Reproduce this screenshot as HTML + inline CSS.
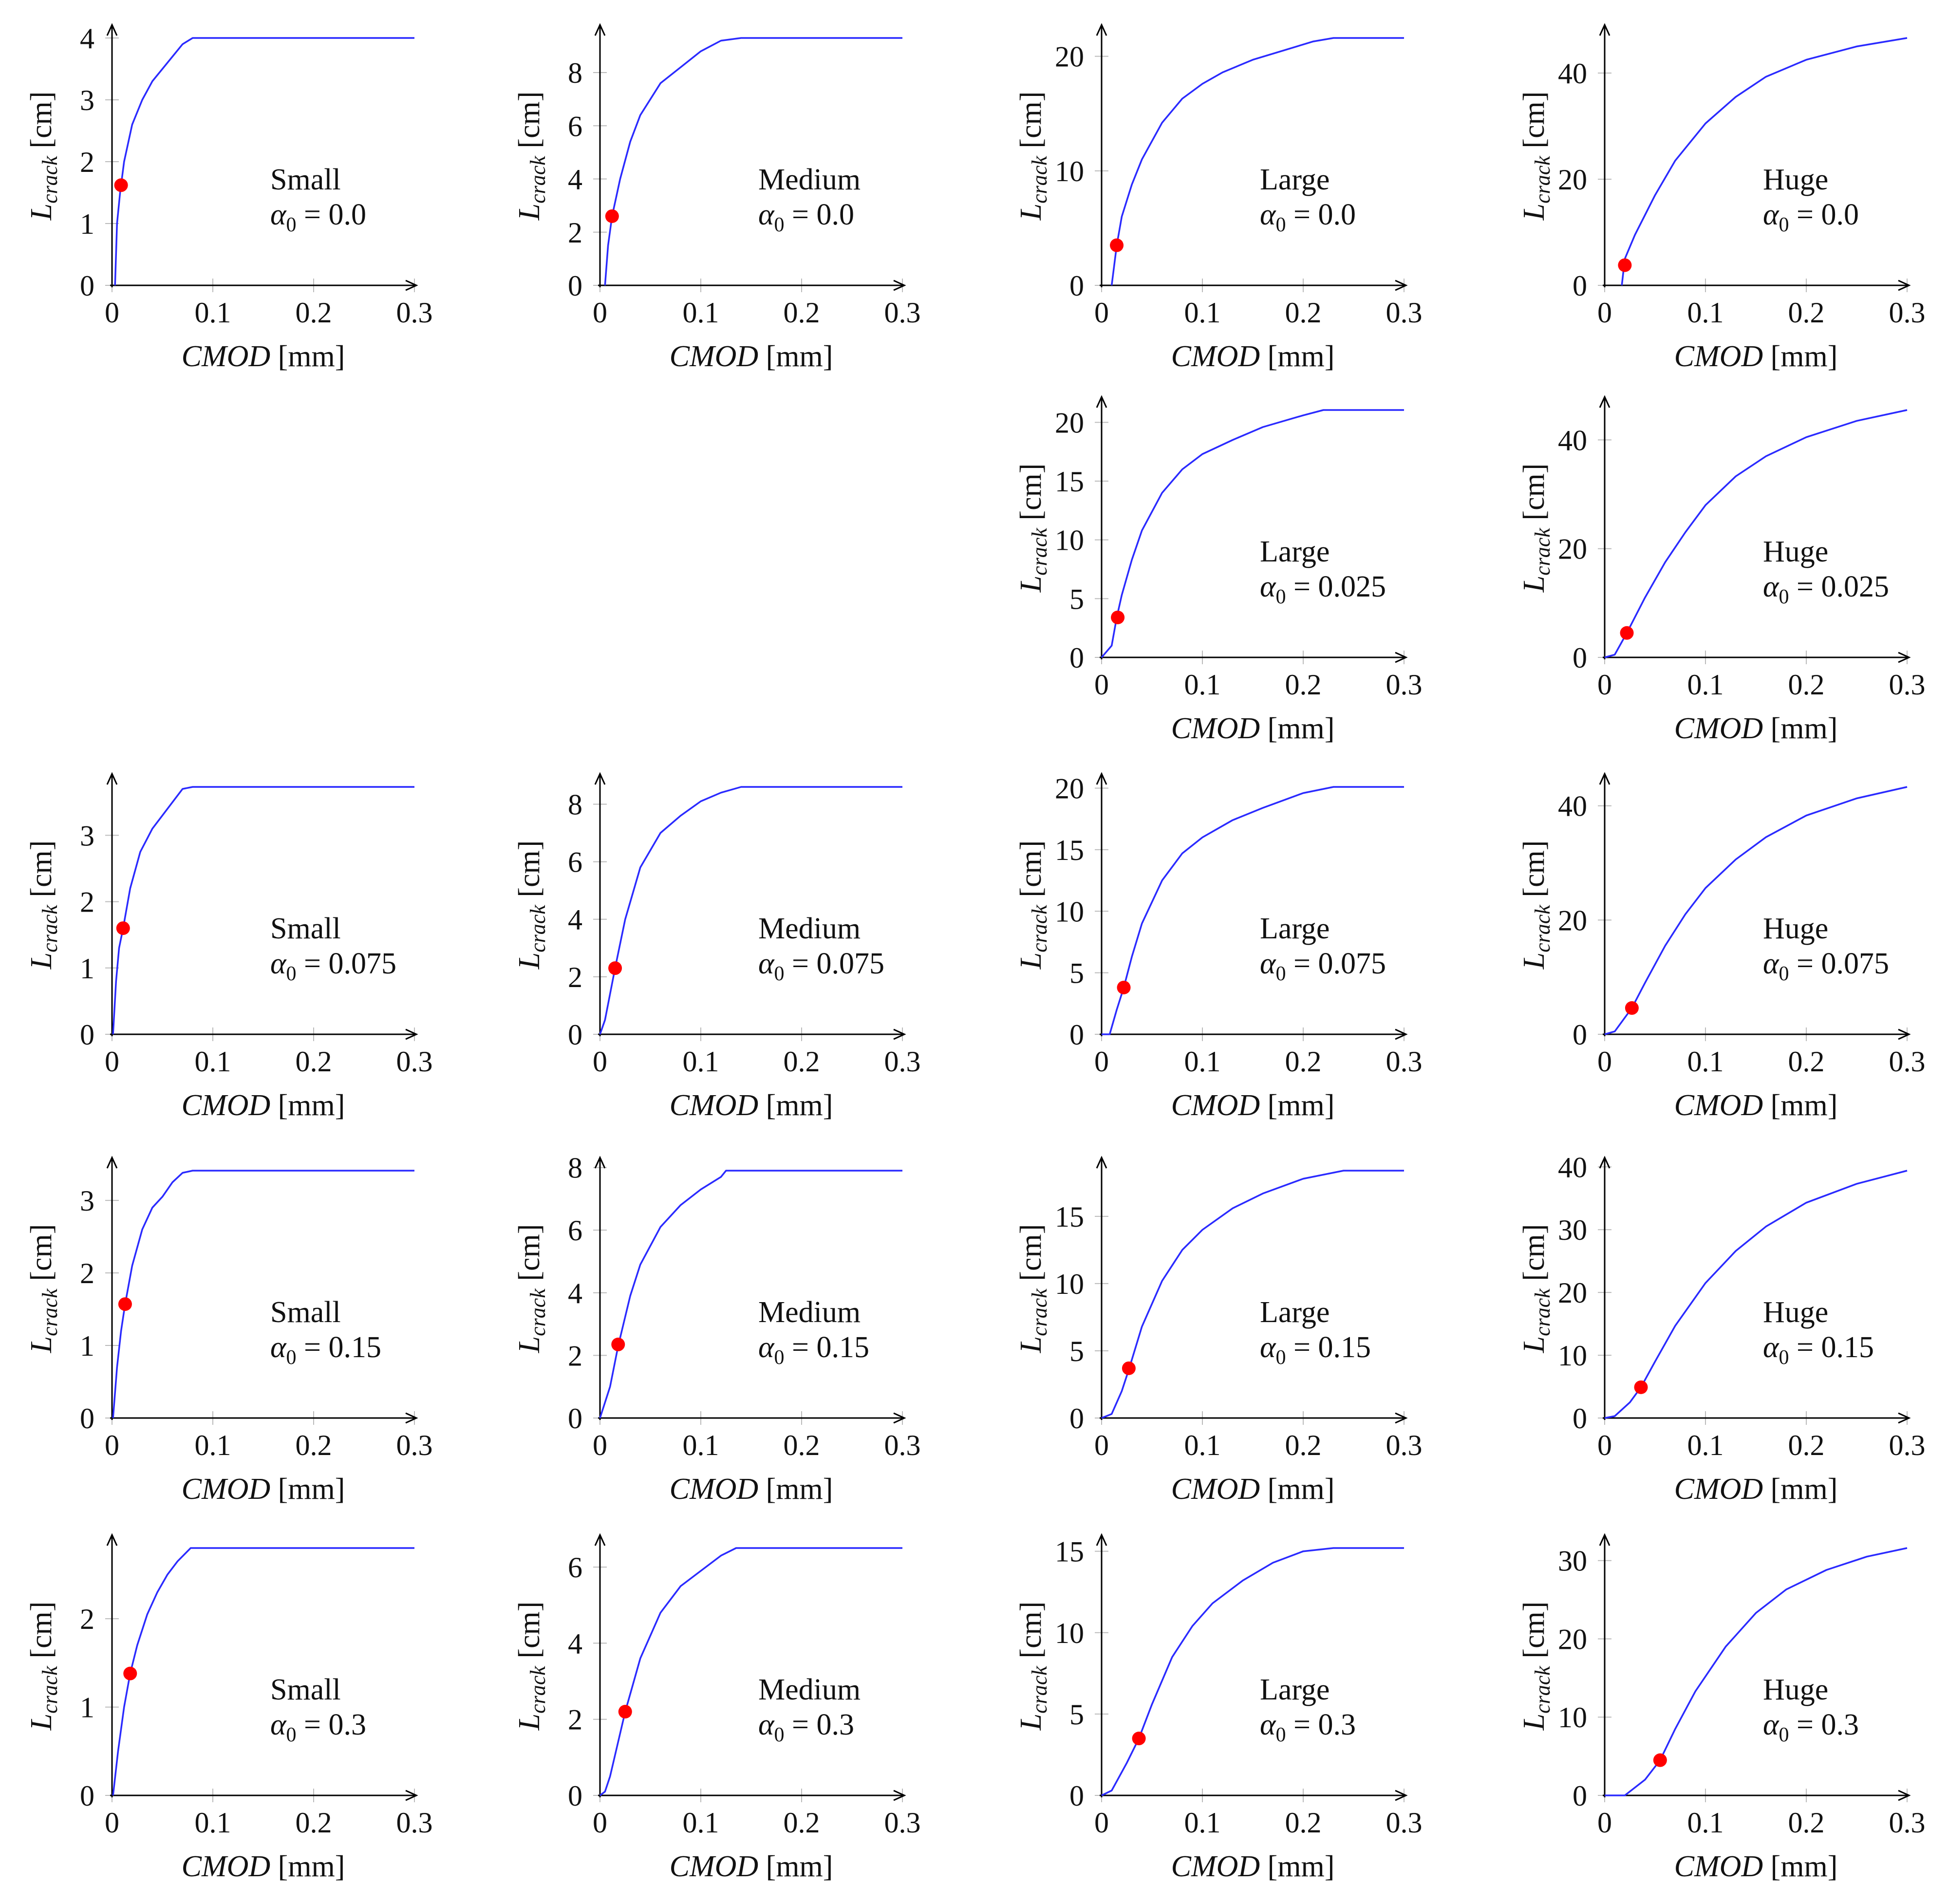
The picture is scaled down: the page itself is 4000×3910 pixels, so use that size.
<!DOCTYPE html>
<html><head><meta charset="utf-8">
<style>
html,body{margin:0;padding:0;background:#fff;}
svg{display:block;}
text{font-family:"Liberation Serif",serif;fill:#111;}
</style></head>
<body>
<svg id="fig" width="4000" height="3910" viewBox="0 0 4000 3910" xmlns="http://www.w3.org/2000/svg"></svg>
<script>
// Layout of grid (column y-axis x positions, row x-axis y positions)
const colAxisX = [230, 1232, 2262, 3295];
const rowAxisY = [586, 1350, 2124, 2912, 3687];

// Panel metadata
const panelSizes = ["Small","Medium","Large","Huge","Large","Huge","Small","Medium","Large","Huge","Small","Medium","Large","Huge","Small","Medium","Large","Huge"];
const panelAlphas = ["0.0","0.0","0.0","0.0","0.025","0.025","0.075","0.075","0.075","0.075","0.15","0.15","0.15","0.15","0.3","0.3","0.3","0.3"];
const panelCols = [0,1,2,3,2,3,0,1,2,3,0,1,2,3,0,1,2,3];
const panelRows = [0,0,0,0,1,1,2,2,2,2,3,3,3,3,4,4,4,4];
const panelYMax = [4,9.3,21.6,46.6,21.05,45.5,3.73,8.6,20.1,43.3,3.41,7.9,18.4,39.4,2.8,6.5,15.2,31.6];
const panelYTicks = [
 [0,1,2,3,4],[0,2,4,6,8],[0,10,20],[0,20,40],
 [0,5,10,15,20],[0,20,40],
 [0,1,2,3],[0,2,4,6,8],[0,5,10,15,20],[0,20,40],
 [0,1,2,3],[0,2,4,6,8],[0,5,10,15],[0,10,20,30,40],
 [0,1,2],[0,2,4,6],[0,5,10,15],[0,10,20,30]
];
const xTicks = [0,0.1,0.2,0.3];
const xTickLabels = ["0","0.1","0.2","0.3"];

// Curve data (CMOD mm, L_crack cm)
const curveX = [
 [0.003,0.005,0.008,0.012,0.02,0.03,0.04,0.05,0.06,0.07,0.08,0.3],
 [0.005,0.008,0.012,0.02,0.03,0.04,0.06,0.08,0.1,0.12,0.14,0.3],
 [0.01,0.015,0.02,0.03,0.04,0.06,0.08,0.1,0.12,0.15,0.18,0.21,0.23,0.3],
 [0.017,0.02,0.03,0.05,0.07,0.1,0.13,0.16,0.2,0.25,0.3],
 [0,0.01,0.015,0.02,0.03,0.04,0.06,0.08,0.1,0.13,0.16,0.2,0.22,0.3],
 [0,0.01,0.022,0.04,0.06,0.08,0.1,0.13,0.16,0.2,0.25,0.3],
 [0.001,0.004,0.007,0.011,0.018,0.028,0.04,0.05,0.06,0.07,0.08,0.3],
 [0,0.005,0.015,0.025,0.04,0.06,0.08,0.1,0.12,0.14,0.3],
 [0,0.008,0.015,0.022,0.03,0.04,0.06,0.08,0.1,0.13,0.16,0.2,0.23,0.3],
 [0,0.01,0.027,0.04,0.06,0.08,0.1,0.13,0.16,0.2,0.25,0.3],
 [0.001,0.005,0.009,0.013,0.02,0.03,0.04,0.05,0.06,0.07,0.08,0.3],
 [0,0.01,0.018,0.03,0.04,0.06,0.08,0.1,0.12,0.125,0.3],
 [0,0.01,0.02,0.027,0.04,0.06,0.08,0.1,0.13,0.16,0.2,0.24,0.3],
 [0,0.01,0.025,0.036,0.05,0.07,0.1,0.13,0.16,0.2,0.25,0.3],
 [0.001,0.006,0.012,0.018,0.025,0.035,0.045,0.055,0.065,0.078,0.3],
 [0,0.005,0.01,0.025,0.04,0.06,0.08,0.1,0.12,0.135,0.3],
 [0,0.01,0.025,0.037,0.05,0.07,0.09,0.11,0.14,0.17,0.2,0.23,0.3],
 [0,0.02,0.04,0.055,0.07,0.09,0.12,0.15,0.18,0.22,0.26,0.3]
];
const curveY = [
 [0,1,1.5,2,2.6,3.0,3.3,3.5,3.7,3.9,4,4],
 [0,1.5,2.6,4,5.4,6.4,7.6,8.2,8.8,9.2,9.3,9.3],
 [0,3.5,6,8.8,11,14.2,16.3,17.6,18.6,19.7,20.5,21.3,21.6,21.6],
 [0,5,9.5,17,23.5,30.5,35.5,39.3,42.5,45,46.6],
 [0,1,3.4,5.3,8.3,10.8,14,16,17.3,18.5,19.6,20.6,21.05,21.05],
 [0,0.5,4.5,11,17.5,23,28,33.3,37,40.5,43.5,45.5],
 [0,0.8,1.3,1.6,2.2,2.75,3.1,3.3,3.5,3.7,3.73,3.73],
 [0,0.5,2.3,4,5.8,7,7.6,8.1,8.4,8.6,8.6],
 [0,0,2,3.8,6.3,9,12.5,14.7,16,17.4,18.4,19.6,20.1,20.1],
 [0,0.5,4.6,9,15.5,21,25.6,30.6,34.5,38.3,41.3,43.3],
 [0,0.7,1.2,1.57,2.1,2.6,2.9,3.05,3.25,3.38,3.41,3.41],
 [0,1,2.3,3.9,4.9,6.1,6.8,7.3,7.7,7.9,7.9],
 [0,0.3,2,3.6,6.8,10.2,12.5,14,15.6,16.7,17.8,18.4,18.4],
 [0,0.3,2.5,4.9,9,14.7,21.5,26.6,30.5,34.3,37.3,39.4],
 [0,0.5,1,1.38,1.7,2.05,2.3,2.5,2.65,2.8,2.8],
 [0,0.1,0.5,2.2,3.6,4.8,5.5,5.9,6.3,6.5,6.5],
 [0,0.3,2,3.5,5.6,8.5,10.4,11.8,13.2,14.3,15,15.2,15.2],
 [0,0,2,4.5,8.5,13.3,19,23.3,26.3,28.8,30.5,31.6]
];
const dotX = [0.009,0.012,0.015,0.02,0.016,0.022,0.011,0.015,0.022,0.027,0.013,0.018,0.027,0.036,0.018,0.025,0.037,0.055];
const dotY = [1.62,2.6,3.5,3.8,3.4,4.5,1.6,2.3,3.8,4.6,1.57,2.35,3.7,4.9,1.38,2.2,3.5,4.5];

const NS = "http://www.w3.org/2000/svg";
const svg = document.getElementById('fig');
const X_MAX = 0.3, X_W = 621, Y_H = 508;
function mk(tag, attrs, parent){const e=document.createElementNS(NS,tag);for(const k in attrs)e.setAttribute(k,attrs[k]);parent.appendChild(e);return e;}

for (let p = 0; p < panelSizes.length; p++) {
  const ox = colAxisX[panelCols[p]], oy = rowAxisY[panelRows[p]];
  const ymax = panelYMax[p];
  const sx = v => ox + v / X_MAX * X_W;
  const sy = v => oy - v / ymax * Y_H;
  const g = mk('g', {}, svg);
  
  

  xTicks.forEach((t, i) => {
    const tl = mk('line', {x1:sx(t),x2:sx(t),y1:oy-14,y2:oy+14,stroke:'#bbb','stroke-width':2}, g);
    
    
    const lb = mk('text', {x:sx(t),y:oy+76,'font-size':60,'text-anchor':'middle'}, g);
    lb.textContent = xTickLabels[i];
    
    
  });
  panelYTicks[p].forEach(t => {
    const tl = mk('line', {x1:ox-14,x2:ox+14,y1:sy(t),y2:sy(t),stroke:'#bbb','stroke-width':2}, g);
    
    
    const lb = mk('text', {x:ox-36,y:sy(t)+21,'font-size':60,'text-anchor':'end'}, g);
    lb.textContent = String(t);
    
    
  });

  const xa = mk('path', {d:`M${ox-4},${oy} H${ox+X_W+4} M${ox+X_W-18},${oy-10} L${ox+X_W+4},${oy} L${ox+X_W-18},${oy+10}`,stroke:'#000','stroke-width':3,fill:'none'}, g);
  
  
  const ya = mk('path', {d:`M${ox},${oy+4} V${oy-535} M${ox-10},${oy-513} L${ox},${oy-535} L${ox+10},${oy-513}`,stroke:'#000','stroke-width':3,fill:'none'}, g);
  
  

  const pts = curveX[p].map((x, i) => sx(x).toFixed(1) + ',' + sy(curveY[p][i]).toFixed(1)).join(' ');
  const cl = mk('polyline', {points:pts,fill:'none',stroke:'#2a2aff','stroke-width':3.5,'stroke-linejoin':'round'}, g);
  
  
  const dt = mk('circle', {cx:sx(dotX[p]),cy:sy(dotY[p]),r:14,fill:'#f00'}, g);
  
  

  const t1 = mk('text', {x:ox+325,y:oy-197,'font-size':62}, g);
  t1.textContent = panelSizes[p];
  
  
  const t2 = mk('text', {x:ox+325,y:oy-125,'font-size':62}, g);
  t2.innerHTML = '<tspan font-style="italic">α</tspan><tspan font-size="42" dy="14">0</tspan><tspan dy="-14"> = ' + panelAlphas[p] + '</tspan>';
  
  

  const xt = mk('text', {x:ox+X_W/2,y:oy+166,'font-size':62,'text-anchor':'middle'}, g);
  xt.innerHTML = '<tspan font-style="italic">CMOD</tspan> [mm]';
  
  
  const cy = oy - 266;
  const yt = mk('text', {x:ox-125,y:cy,'font-size':62,'text-anchor':'middle',transform:`rotate(-90 ${ox-125} ${cy})`}, g);
  yt.innerHTML = '<tspan font-style="italic">L</tspan><tspan font-style="italic" font-size="44" dy="12">crack</tspan><tspan dy="-12"> [cm]</tspan>';
  
  
}
</script>
</body></html>
